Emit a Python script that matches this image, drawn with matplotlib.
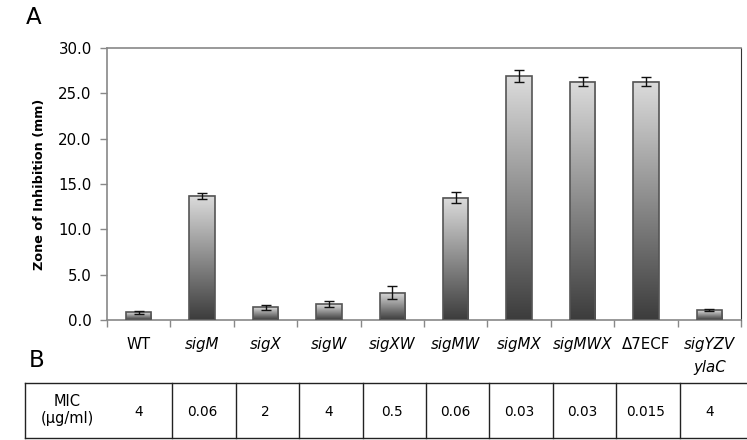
import numpy as np
import matplotlib
matplotlib.use('Agg')
import matplotlib.pyplot as plt
from matplotlib.colors import LinearSegmentedColormap

strains = ['WT', 'sigM', 'sigX', 'sigW', 'sigXW', 'sigMW', 'sigMX', 'sigMWX', '\u03947ECF', 'sigYZV\nylaC']
italic = [False, True, True, True, True, True, True, True, False, True]
zone = [0.85, 13.7, 1.4, 1.75, 3.0, 13.5, 26.9, 26.3, 26.3, 1.1]
zone_err = [0.15, 0.3, 0.3, 0.3, 0.7, 0.65, 0.65, 0.45, 0.45, 0.15]
mic = ['4', '0.06', '2', '4', '0.5', '0.06', '0.03', '0.03', '0.015', '4']

plt.rcParams['font.family'] = ['DejaVu Sans']

W, H = 747, 440
fig = plt.figure(figsize=(W / 100, H / 100), dpi=100)

# plot box in pixels
left, right, top, bottom = 107, 741, 48, 320
ax = fig.add_axes([left / W, 1 - bottom / H, (right - left) / W, (bottom - top) / H])

n = len(strains)
x = np.arange(n)
bw = 0.4
cmap = LinearSegmentedColormap.from_list('bar', ['#3c3c3c', '#dcdcdc'])
grad = np.linspace(0, 1, 256).reshape(-1, 1)

for xi, h in zip(x, zone):
    ax.imshow(grad, cmap=cmap, origin='lower', aspect='auto',
              extent=(xi - bw / 2, xi + bw / 2, 0, h), zorder=2)
ax.bar(x, zone, width=bw, facecolor='none', edgecolor='#555555', linewidth=1.2, zorder=3)
ax.errorbar(x, zone, yerr=zone_err, fmt='none', ecolor='#111111', elinewidth=1,
            capsize=3.5, capthick=1, zorder=4)

ax.set_xlim(-0.5, n - 0.5)
ax.set_ylim(0, 30)
ax.set_yticks(np.arange(0, 30.1, 5))
ax.set_yticklabels([f'{v:.1f}' for v in np.arange(0, 30.1, 5)], fontsize=10.8)
ax.set_xticks(np.arange(-0.5, n, 1))
ax.set_xticklabels([])
ax.tick_params(axis='both', direction='out', color='#888888', length=5, width=1)
ax.tick_params(axis='y', pad=6)
for s in ax.spines.values():
    s.set_color('#888888')
    s.set_linewidth(1.2)
ax.spines['right'].set_color('#333333')
ax.spines['right'].set_linewidth(0.8)

# category names, one text per line so the second row sits where it should
trans = ax.get_xaxis_transform()
for xi, name, it in zip(x, strains, italic):
    for j, line in enumerate(name.split('\n')):
        ypix = 344 + 23 * j
        ax.text(xi, (bottom - ypix) / (bottom - top), line, transform=trans,
                ha='center', va='center', fontsize=10.8,
                style='italic' if it else 'normal')

ax.set_ylabel('Zone of Inhibition (mm)', fontsize=9.2, fontweight='bold', labelpad=9)

fig.text(26 / W, 1 - 18 / H, 'A', fontsize=16.5, va='center', ha='left')
fig.text(29 / W, 1 - 360 / H, 'B', fontsize=16.5, va='center', ha='left')

# MIC table below the chart, columns aligned with the bars
tab = fig.add_axes([0, 0, 1, 1], facecolor='none')
tab.set_xlim(0, W)
tab.set_ylim(H, 0)
tab.axis('off')
col = (right - left) / n
t_top, t_bot = 383, 438
edges = [25] + [left + 2 + col * k for k in range(1, n)]
tab.plot([25, W], [t_top, t_top], color='#222222', lw=1)
tab.plot([25, W], [t_bot, t_bot], color='#222222', lw=1)
for e in edges:
    tab.plot([e, e], [t_top, t_bot], color='#222222', lw=1)
tab.text(67, 402, 'MIC', ha='center', va='center', fontsize=10.5)
tab.text(67, 419, '(\u00b5g/ml)', ha='center', va='center', fontsize=10.5)
for k, val in enumerate(mic):
    cx = left + col * (k + 0.5)
    tab.text(cx, 412, val, ha='center', va='center', fontsize=9.8)

fig.savefig('out.png', dpi=100)
